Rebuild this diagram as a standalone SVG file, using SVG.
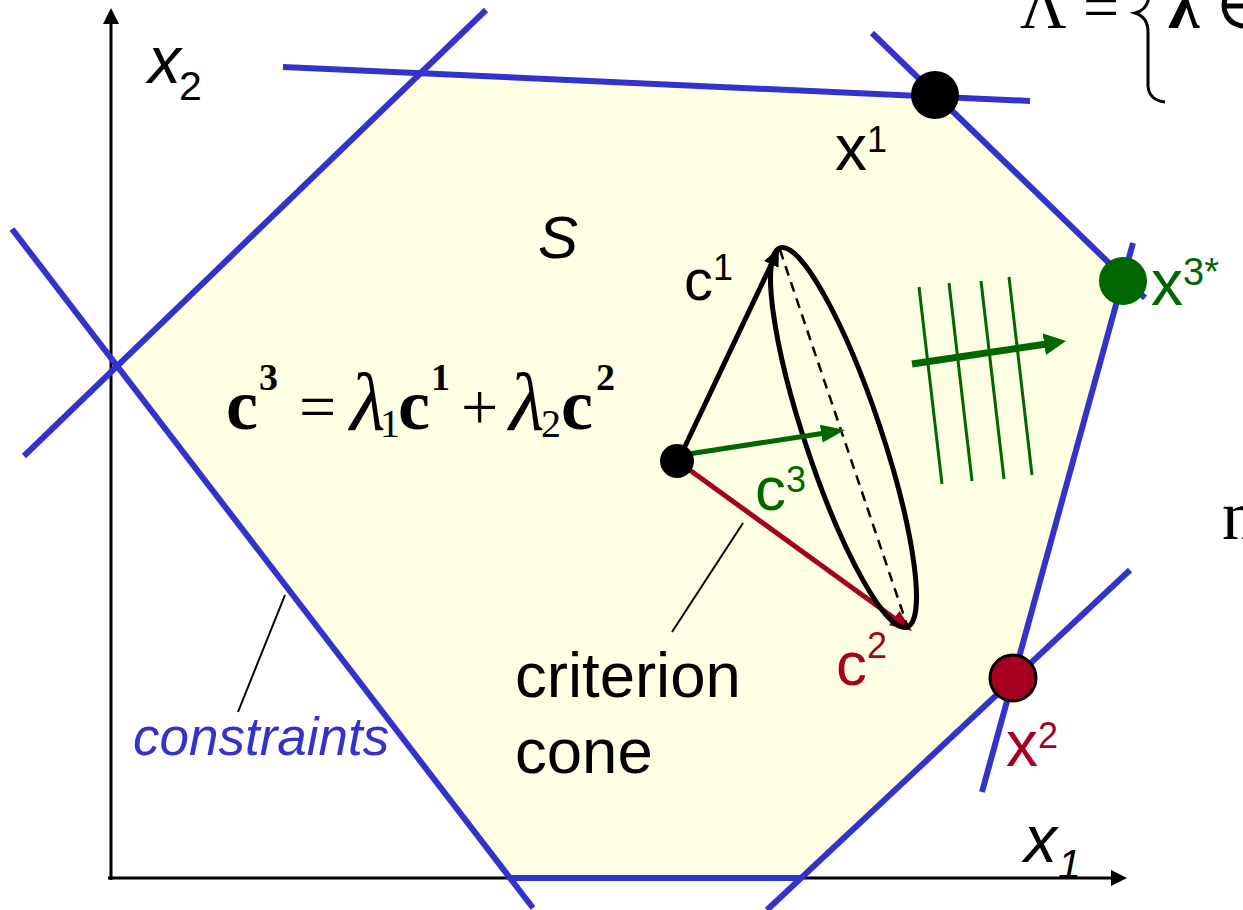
<svg xmlns="http://www.w3.org/2000/svg" width="1243" height="910" viewBox="0 0 1243 910">
<defs>
<style>
.blue{stroke:#3333CC;stroke-width:6;fill:none;stroke-linecap:butt}
.axis{stroke:#000;stroke-width:3;fill:none}
.sans{font-family:"Liberation Sans",Arial,sans-serif}
.serif{font-family:"Liberation Serif","Times New Roman",serif}
.hatch{stroke:#006600;stroke-width:3;fill:none}
</style>
<marker id="axHead" viewBox="0 0 16 16" refX="4" refY="8" markerWidth="16" markerHeight="16" markerUnits="userSpaceOnUse" orient="auto"><path d="M0,0 L16,8 L0,16 z" fill="#000"/></marker>
<marker id="blkHead" viewBox="0 0 18 16" refX="4" refY="8" markerWidth="18" markerHeight="16" markerUnits="userSpaceOnUse" orient="auto"><path d="M0,0 L18,8 L0,16 z" fill="#000"/></marker>
<marker id="grnHead" viewBox="0 0 24 18" refX="4" refY="9" markerWidth="24" markerHeight="18" markerUnits="userSpaceOnUse" orient="auto"><path d="M0,0 L24,9 L0,18 z" fill="#006600"/></marker>
<marker id="grnHead2" viewBox="0 0 22 22" refX="4" refY="11" markerWidth="22" markerHeight="22" markerUnits="userSpaceOnUse" orient="auto"><path d="M0,0 L22,11 L0,22 z" fill="#006600"/></marker>
<marker id="redHead" viewBox="0 0 22 18" refX="4" refY="9" markerWidth="22" markerHeight="18" markerUnits="userSpaceOnUse" orient="auto"><path d="M0,0 L22,9 L0,18 z" fill="#A50021"/></marker>
</defs>
<rect width="1243" height="910" fill="#FFFFFF"/>

<g id="feasible-set">
<polygon points="116,366 421,73 937.7,96.6 1123.6,277 1013,679 801,878 510,878" fill="#FFFFE3"/>
</g>

<g id="axes">
<line class="axis" x1="111" y1="880" x2="111" y2="20" marker-end="url(#axHead)"/>
<line class="axis" x1="108" y1="878" x2="1115" y2="878" marker-end="url(#axHead)"/>
<text class="sans" x="148" y="83" font-size="66" font-style="italic">x</text>
<text class="sans" x="179" y="100" font-size="41">2</text>
<text class="sans" x="1024" y="862" font-size="66" font-style="italic">x</text>
<text class="sans" x="1058" y="878" font-size="41" font-style="italic">1</text>
</g>

<g id="constraints">
<line class="blue" x1="283" y1="67" x2="1030" y2="101"/>
<line class="blue" x1="24" y1="456" x2="486" y2="10"/>
<line class="blue" x1="12" y1="229" x2="533" y2="908"/>
<line class="blue" x1="510" y1="878" x2="801" y2="878"/>
<line class="blue" x1="767" y1="910" x2="1130" y2="570"/>
<line class="blue" x1="982" y1="792" x2="1133" y2="243"/>
<line class="blue" x1="872" y1="33" x2="1145" y2="298"/>
</g>

<g id="constraints-label">
<line x1="238" y1="712" x2="285" y2="595" stroke="#000" stroke-width="2"/>
<text class="sans" x="133" y="755" font-size="53" font-style="italic" fill="#3333CC">constraints</text>
</g>

<g id="set-label">
<text class="sans" x="538" y="258" font-size="60" font-style="italic">S</text>
</g>

<g id="formula" class="serif">
<text x="226" y="429" font-size="72" font-weight="bold">c</text>
<text x="259" y="390" font-size="38" font-weight="bold">3</text>
<text x="299" y="429" font-size="66">=</text>
<text x="350" y="430" font-size="82" font-style="italic">λ</text>
<text x="380" y="437" font-size="40">1</text>
<text x="398" y="429" font-size="72" font-weight="bold">c</text>
<text x="431" y="390" font-size="38" font-weight="bold">1</text>
<text x="461" y="429" font-size="66">+</text>
<text x="509" y="430" font-size="82" font-style="italic">λ</text>
<text x="541" y="437" font-size="40">2</text>
<text x="561" y="429" font-size="72" font-weight="bold">c</text>
<text x="596" y="390" font-size="38" font-weight="bold">2</text>
</g>

<g id="lambda-set" class="serif">
<text x="1020" y="28" font-size="64">Λ</text>
<text x="1083" y="28" font-size="64">=</text>
<path d="M1152,-40 L1149,-5 Q1148,10 1135,13 Q1148,17 1148,32 L1148,86 Q1149,100 1165,102" fill="none" stroke="#000" stroke-width="3"/>
<text x="1168" y="28" font-size="64" font-weight="bold">λ</text>
<text x="1216" y="28" font-size="64">∈</text>
<text x="1222" y="539" font-size="70">n</text>
</g>

<g id="connectors">
<line x1="679" y1="459" x2="773" y2="260.7" stroke="#000" stroke-width="5" marker-end="url(#blkHead)"/>
<line x1="680" y1="463" x2="897.4" y2="620.4" stroke="#A50021" stroke-width="5" marker-end="url(#redHead)"/>
<ellipse cx="843.5" cy="437.5" rx="200" ry="38" transform="rotate(71.5 843.5 437.5)" fill="none" stroke="#000" stroke-width="5"/>
<line x1="780" y1="250" x2="907" y2="625" stroke="#000" stroke-width="2.5" stroke-dasharray="10 7"/>
<line x1="682" y1="455" x2="825.2" y2="433" stroke="#006600" stroke-width="5" marker-end="url(#grnHead)"/>
<line x1="672" y1="632" x2="743" y2="523" stroke="#000" stroke-width="2"/>
</g>

<g id="hatch">
<line class="hatch" x1="919" y1="287" x2="942" y2="484"/>
<line class="hatch" x1="949" y1="283" x2="972" y2="481"/>
<line class="hatch" x1="981" y1="281" x2="1004" y2="479"/>
<line class="hatch" x1="1009" y1="277" x2="1032" y2="475"/>
<line x1="912" y1="364" x2="1048.2" y2="343.7" stroke="#006600" stroke-width="7" marker-end="url(#grnHead2)"/>
</g>

<g id="apex">
<circle cx="677" cy="461" r="17" fill="#000"/>
</g>

<g id="c1-label" class="sans">
<text x="684" y="300" font-size="58">c<tspan font-size="36" dy="-20">1</tspan></text>
</g>
<g id="c3-label" class="sans" fill="#006600">
<text x="755" y="510" font-size="62">c<tspan font-size="36" dy="-18">3</tspan></text>
</g>
<g id="c2-label" class="sans" fill="#A50021">
<text x="836" y="685" font-size="62">c<tspan font-size="36" dy="-27">2</tspan></text>
</g>

<g id="cone-label" class="sans">
<text x="515" y="697" font-size="63.5">criterion</text>
<text x="515" y="773" font-size="63.5">cone</text>
</g>

<g id="x1">
<circle cx="935" cy="95" r="24" fill="#000"/>
<text class="sans" x="835" y="170" font-size="64">x<tspan font-size="36" dy="-18">1</tspan></text>
</g>
<g id="x3star">
<circle cx="1123" cy="281" r="24" fill="#006600"/>
<text class="sans" x="1151" y="305" font-size="64" fill="#006600">x<tspan font-size="38" dy="-20">3*</tspan></text>
</g>
<g id="x2">
<circle cx="1013" cy="678" r="23" fill="#A50021" stroke="#000" stroke-width="3"/>
<text class="sans" x="1006" y="766" font-size="64" fill="#A50021">x<tspan font-size="36" dy="-18">2</tspan></text>
</g>
</svg>
